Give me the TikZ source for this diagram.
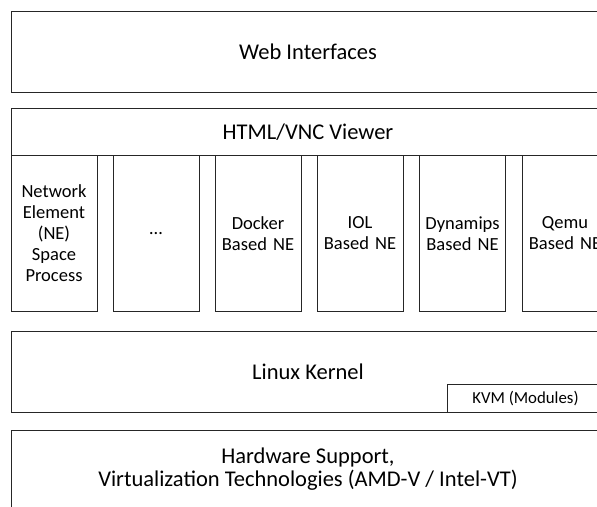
\documentclass[tikz,border=0pt]{standalone}
\usepackage{fontspec}
\setmainfont{Carlito}
\begin{document}
\begin{tikzpicture}[x=1pt,y=-1pt,
  box/.style={draw=black!85, line width=0.9pt, rectangle, inner sep=0pt, align=center},
  big/.style={font=\fontsize{22.5}{22.5}\selectfont},
  col/.style={box, minimum width=86pt, minimum height=155.3pt, text width=84pt,
              font=\fontsize{18.5}{21}\selectfont},
  small/.style={font=\fontsize{16.8}{18}\selectfont}]
\useasboundingbox (0,0) rectangle (597,506);
\clip (0,0) rectangle (597,506);
\node[box,big,minimum width=594pt,minimum height=81pt] (web) at (308,51.5) {Web Interfaces};
\node[box,big,minimum width=594pt,minimum height=47pt] (html) at (308,132.2) {HTML/VNC Viewer};
\node[col] (c1) at (54,233.3) {Network\\Element\\(NE)\\Space\\Process};
\node[col] (c2) at (156,233.3) {…};
\node[col] (c3) at (258,233.3) {Docker\\Based NE};
\node[col] (c4) at (360,233.3) {IOL\\Based NE};
\node[col] (c5) at (462.5,233.3) {Dynamips\\Based NE};
\node[col] (c6) at (565,233.3) {Qemu\\Based NE};
\node[box,big,minimum width=594pt,minimum height=81pt] (linux) at (308,372.2) {Linux Kernel};
\node[box,small,minimum width=157pt,minimum height=28pt] (kvm) at (525.5,398.7) {KVM (Modules)};
\node[box,big,minimum width=594pt,minimum height=78pt] (hw) at (308,469) {Hardware Support,\\Virtualization Technologies (AMD-V / Intel-VT)};
\end{tikzpicture}
\end{document}
